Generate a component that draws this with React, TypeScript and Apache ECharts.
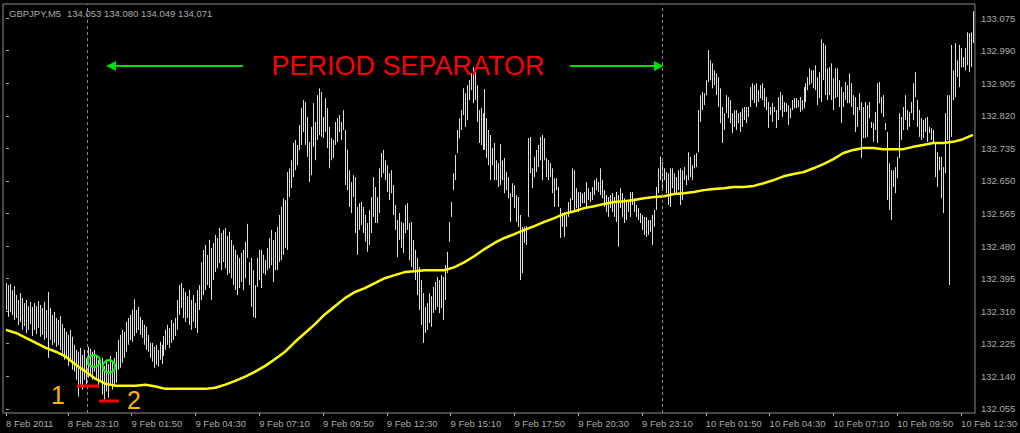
import React, { useEffect, useRef } from "react";
import * as echarts from "echarts";

// GBPJPY M5 bars, index 0 = 8 Feb 20:35, one bar per 5 minutes
const highs = [
  132.383,132.378,132.381,132.365,132.375,132.352,132.339,132.357,132.344,132.331,
  132.339,132.323,132.334,132.321,132.331,132.323,132.336,132.326,132.318,132.334,
  132.313,132.360,132.318,132.300,132.308,132.292,132.287,132.297,132.276,132.266,
  132.256,132.248,132.261,132.243,132.222,132.209,132.204,132.214,132.196,132.209,
  132.188,132.217,132.211,132.204,132.209,132.196,132.183,132.178,132.188,132.167,
  132.183,132.172,132.193,132.178,132.188,132.204,132.235,132.248,132.261,132.256,
  132.282,132.292,132.300,132.313,132.341,132.313,132.321,132.295,132.287,132.274,
  132.269,132.248,132.227,132.227,132.217,132.222,132.209,132.230,132.222,132.245,
  132.261,132.274,132.266,132.287,132.279,132.292,132.339,132.378,132.383,132.370,
  132.360,132.349,132.365,132.339,132.352,132.331,132.365,132.378,132.438,132.470,
  132.483,132.457,132.496,132.475,132.488,132.509,132.501,132.527,132.514,132.522,
  132.527,132.506,132.517,132.496,132.483,132.470,132.457,132.449,
  132.462,132.470,132.491,132.538,132.438,132.449,132.417,132.378,132.449,132.470,
  132.470,132.457,132.443,132.475,132.501,132.522,132.496,132.517,132.530,132.561,
  132.582,132.605,132.600,132.673,132.683,132.704,132.749,132.757,132.744,132.796,
  132.840,132.861,132.856,132.817,132.752,132.791,132.853,132.804,132.874,132.892,
  132.882,132.817,132.866,132.840,132.791,132.762,132.757,132.804,132.814,132.822,
  132.804,132.835,132.783,132.731,132.678,132.647,132.665,132.660,132.582,132.592,
  132.595,132.582,132.561,132.540,132.574,132.608,132.660,132.634,132.608,132.683,
  132.723,132.731,132.704,132.691,132.670,132.678,132.639,132.587,132.548,132.566,
  132.543,132.540,132.587,132.592,132.540,132.543,132.496,132.470,132.449,132.425,
  132.391,132.357,132.321,132.331,132.357,132.349,132.373,132.386,132.399,132.391,
  132.404,132.399,132.430,132.465,132.543,132.595,132.670,132.718,132.783,132.814,
  132.835,132.892,132.879,132.900,132.913,132.931,132.947,132.934,132.900,132.835,132.840,132.827,
  132.890,132.814,132.783,132.770,132.736,132.749,132.704,132.696,132.746,132.704,
  132.710,132.673,132.660,132.618,132.644,132.639,132.613,132.608,132.561,132.530,
  132.530,132.532,132.762,132.765,132.683,132.713,132.731,132.744,132.765,132.770,
  132.762,132.710,132.704,132.696,132.683,132.657,132.657,132.634,132.579,132.566,
  132.569,132.561,132.595,132.605,132.683,132.678,132.631,132.621,132.621,132.618,
  132.621,132.647,132.631,132.621,132.634,132.652,132.657,132.647,132.683,132.652,
  132.626,132.613,132.608,132.613,132.618,132.608,132.621,132.613,132.631,132.618,
  132.605,132.595,132.595,132.621,132.621,132.605,132.587,132.579,132.566,132.561,
  132.556,132.556,132.548,132.548,132.561,132.574,132.634,132.683,132.713,132.699,
  132.683,132.673,132.670,132.683,132.683,132.670,132.660,132.678,132.683,132.678,
  132.686,132.665,132.725,132.713,132.691,132.718,132.723,132.835,132.874,132.882,132.879,132.913,
  132.992,132.965,132.957,132.939,132.931,132.921,132.892,132.843,132.827,132.874,
  132.869,132.861,132.827,132.835,132.835,132.827,132.830,132.840,132.843,132.843,
  132.843,132.895,132.905,132.900,132.905,132.887,132.900,132.905,132.892,132.869,
  132.856,132.843,132.853,132.843,132.835,132.869,132.882,132.874,132.856,132.853,
  132.848,132.840,132.861,132.866,132.866,132.861,132.869,132.861,132.895,132.905,
  132.921,132.944,132.939,132.939,132.952,132.921,132.934,133.020,133.010,133.005,
  132.944,132.947,132.957,132.918,132.944,132.944,132.913,132.895,132.882,132.908,
  132.900,132.931,132.905,132.874,132.869,132.843,132.879,132.856,132.843,132.856,
  132.848,132.856,132.804,132.801,132.830,132.905,132.908,132.869,132.874,132.801,
  132.778,132.696,132.678,132.678,132.686,132.713,132.827,132.817,132.843,132.874,
  132.835,132.830,132.856,132.905,132.934,132.861,132.835,132.814,132.809,132.814,
  132.817,132.791,132.788,132.783,132.749,132.725,132.713,132.713,132.686,132.827,
  132.874,132.874,133.005,132.939,133.010,132.965,133.005,132.997,132.973,132.997,
  133.038,133.036,133.038,133.093,
];

const lows = [
  132.313,132.295,132.308,132.300,132.287,132.292,132.274,132.282,132.261,132.271,
  132.253,132.261,132.276,132.245,132.261,132.250,132.266,132.243,132.248,132.235,
  132.240,132.188,132.235,132.222,132.227,132.217,132.222,132.209,132.196,132.183,
  132.188,132.167,132.178,132.157,132.152,132.131,132.087,132.118,132.105,132.131,
  132.118,132.136,132.146,132.131,132.152,132.136,132.110,132.126,132.092,132.079,
  132.100,132.084,132.115,132.105,132.118,132.123,132.157,132.162,132.175,132.188,
  132.204,132.222,132.235,132.230,132.245,132.253,132.261,132.248,132.240,132.222,
  132.209,132.204,132.188,132.178,132.162,132.170,132.165,132.183,132.172,132.193,
  132.209,132.222,132.214,132.227,132.235,132.245,132.261,132.300,132.318,132.292,
  132.282,132.292,132.274,132.261,132.282,132.266,132.253,132.313,132.339,132.352,
  132.365,132.378,132.370,132.339,132.391,132.412,132.422,132.435,132.417,132.438,
  132.422,132.404,132.409,132.396,132.378,132.365,132.352,132.370,
  132.386,132.365,132.396,132.449,132.378,132.321,132.295,132.292,132.373,132.391,
  132.370,132.409,132.404,132.417,132.422,132.430,132.386,132.417,132.417,132.438,
  132.443,132.457,132.475,132.470,132.608,132.631,132.660,132.678,132.691,132.731,
  132.744,132.778,132.744,132.713,132.647,132.665,132.739,132.704,132.757,132.770,
  132.765,132.762,132.778,132.736,132.683,132.704,132.710,132.744,132.752,132.778,
  132.757,132.783,132.639,132.626,132.582,132.566,132.608,132.514,132.457,132.522,
  132.535,132.514,132.491,132.465,132.483,132.514,132.556,132.540,132.540,132.566,
  132.660,132.670,132.652,132.621,132.600,132.618,132.561,132.522,132.451,132.496,
  132.475,132.462,132.514,132.522,132.443,132.425,132.417,132.391,132.352,132.313,
  132.274,132.227,132.253,132.261,132.279,132.269,132.305,132.313,132.321,132.305,
  132.318,132.287,132.339,132.409,132.491,132.556,132.626,132.652,132.723,132.762,
  132.783,132.822,132.791,132.809,132.861,132.887,132.853,132.861,132.804,132.749,132.744,132.731,
  132.731,132.710,132.691,132.652,132.691,132.652,132.652,132.634,132.639,132.652,
  132.618,132.626,132.605,132.543,132.608,132.579,132.543,132.530,132.391,132.409,
  132.488,132.483,132.556,132.670,132.631,132.660,132.673,132.686,132.704,132.652,
  132.704,132.660,132.652,132.660,132.618,132.582,132.626,132.582,132.501,132.530,
  132.504,132.530,132.556,132.569,132.600,132.574,132.579,132.569,132.582,132.592,
  132.592,132.582,132.600,132.595,132.600,132.613,132.626,132.621,132.613,132.605,
  132.582,132.569,132.556,132.579,132.569,132.556,132.543,132.478,132.579,132.556,
  132.540,132.548,132.569,132.556,132.587,132.569,132.556,132.548,132.540,132.522,
  132.509,132.504,132.509,132.517,132.483,132.530,132.574,132.618,132.652,132.626,
  132.652,132.618,132.587,132.582,132.631,132.618,132.613,132.626,132.587,132.600,
  132.652,132.639,132.652,132.660,132.652,132.683,132.686,132.725,132.804,132.835,132.848,132.874,
  132.908,132.913,132.892,132.900,132.874,132.843,132.801,132.749,132.783,132.827,
  132.814,132.801,132.775,132.791,132.783,132.801,132.778,132.791,132.809,132.801,
  132.817,132.843,132.861,132.853,132.843,132.856,132.866,132.861,132.843,132.835,
  132.788,132.822,132.804,132.830,132.788,132.809,132.835,132.817,132.830,132.830,
  132.796,132.814,132.835,132.840,132.840,132.843,132.830,132.835,132.840,132.856,
  132.887,132.900,132.905,132.892,132.887,132.848,132.866,132.856,132.913,132.874,
  132.861,132.874,132.861,132.835,132.866,132.869,132.843,132.801,132.843,132.861,
  132.853,132.853,132.843,132.822,132.778,132.791,132.835,132.710,132.762,132.762,
  132.765,132.814,132.788,132.752,132.783,132.749,132.853,132.827,132.817,132.783,
  132.600,132.574,132.548,132.634,132.618,132.657,132.710,132.757,132.783,132.809,
  132.783,132.791,132.827,132.809,132.869,132.791,132.765,132.757,132.762,132.778,
  132.752,132.775,132.757,132.749,132.660,132.634,132.678,132.605,132.566,132.670,
  132.757,132.378,132.765,132.861,132.869,132.921,132.895,132.947,132.947,132.939,
  132.952,132.934,132.947,133.010,
];

// Moving average, one reading every 5 bars (bar 0, 5, 10, ...)
const maStep = 5;
const maValues = [
  132.261,132.253,132.240,132.227,132.214,132.204,132.191,132.170,132.152,132.133,
  132.120,132.115,132.115,132.115,132.118,132.113,132.107,132.107,132.107,132.107,
  132.107,132.110,132.118,132.128,132.139,132.152,132.167,132.185,132.204,132.230,
  132.253,132.276,132.302,132.323,132.344,132.360,132.370,132.383,132.396,132.404,
  132.412,132.414,132.417,132.417,132.417,132.425,132.438,132.454,132.472,132.488,
  132.501,132.511,132.522,132.532,132.543,132.553,132.564,132.571,132.579,132.584,
  132.590,132.595,132.597,132.600,132.605,132.608,132.610,132.616,132.618,132.621,
  132.626,132.629,132.631,132.634,132.634,132.637,132.644,132.652,132.662,132.668,
  132.673,132.683,132.694,132.707,132.723,132.731,132.736,132.736,132.733,132.733,
  132.733,132.739,132.744,132.749,132.749,132.752,132.759,132.770,
];

// Day separators (bar index of 9 Feb 00:00 and 10 Feb 00:00)
const separatorIdx = [41, 329];

const xTickIdx = [0, 31, 63, 95, 127, 159, 191, 223, 255, 287, 319, 351, 383, 415, 447, 479];
const xTickLabels = [
  "8 Feb 2011", "8 Feb 23:10", "9 Feb 01:50", "9 Feb 04:30", "9 Feb 07:10", "9 Feb 09:50",
  "9 Feb 12:30", "9 Feb 15:10", "9 Feb 17:50", "9 Feb 20:30", "9 Feb 23:10", "10 Feb 01:50",
  "10 Feb 04:30", "10 Feb 07:10", "10 Feb 09:50", "10 Feb 12:30",
];
const yTicks = [
  132.055, 132.140, 132.225, 132.310, 132.395, 132.480, 132.565,
  132.650, 132.735, 132.820, 132.905, 132.990, 133.075,
];

const FONT = "'Liberation Sans', Arial, sans-serif";
const AXIS_COLOR = "#aaaaaa";

export default function App() {
  const ref = useRef<HTMLDivElement>(null);

  useEffect(() => {
    if (!ref.current) return;
    const chart = echarts.init(ref.current, null, { renderer: "svg" });

    const barData = highs.map((h, i) => [i, h, lows[i]]);
    const maData = maValues.map((v, k) => [k * maStep, v]);

    chart.setOption({
      animation: false,
      backgroundColor: "#000000",
      grid: {
        left: 3,
        right: 42,
        top: 4,
        bottom: 20,
        show: true,
        borderColor: "#8c8c8c",
        borderWidth: 1,
        backgroundColor: "transparent",
      },
      xAxis: {
        type: "value",
        min: -1.5,
        max: 486,
        axisLine: { show: false },
        splitLine: { show: false },
        axisTick: {
          show: true,
          customValues: xTickIdx,
          length: 3,
          lineStyle: { color: AXIS_COLOR },
        },
        axisLabel: {
          customValues: xTickIdx,
          formatter: (v: number) => {
            const k = xTickIdx.indexOf(Math.round(v));
            return k >= 0 ? xTickLabels[k] : "";
          },
          align: "left",
          color: AXIS_COLOR,
          fontSize: 9.5,
          fontFamily: FONT,
          margin: 5,
        },
      },
      yAxis: {
        type: "value",
        position: "right",
        min: 132.044,
        max: 133.112,
        axisLine: { show: false },
        splitLine: { show: false },
        axisTick: {
          show: true,
          customValues: yTicks,
          length: 3,
          lineStyle: { color: AXIS_COLOR },
        },
        axisLabel: {
          customValues: yTicks,
          formatter: (v: number) => v.toFixed(3),
          color: AXIS_COLOR,
          fontSize: 9.5,
          fontFamily: FONT,
          margin: 6,
        },
      },
      series: [
        {
          type: "custom",
          data: barData,
          encode: { x: 0, y: [1, 2] },
          renderItem: (params: any, api: any) => {
            const i = api.value(0);
            const top = api.coord([i, api.value(1)]);
            const bot = api.coord([i, api.value(2)]);
            const x = Math.round(top[0]) + 0.5;
            return {
              type: "line",
              shape: { x1: x, y1: top[1], x2: x, y2: bot[1] },
              style: { stroke: "#dedede", lineWidth: 1 },
            };
          },
          markLine: {
            silent: true,
            symbol: ["none", "none"],
            label: { show: false },
            lineStyle: { color: "#8c8c8c", type: [3, 3], width: 1 },
            data: separatorIdx.map((v) => ({ xAxis: v })),
          },
          z: 2,
        },
        {
          type: "line",
          data: maData,
          showSymbol: false,
          symbol: "none",
          lineStyle: { color: "#ffff00", width: 2.5 },
          z: 3,
        },
      ],
      graphic: [
        {
          type: "text",
          x: 9,
          y: 13,
          z: 100,
          style: { text: "GBPJPY,M5", fill: "#acacac", fontSize: 9.5, fontFamily: FONT, textVerticalAlign: "middle" },
        },
        {
          type: "text",
          x: 67,
          y: 13,
          z: 100,
          style: { text: "134.053 134.080 134.049 134.071", fill: "#acacac", fontSize: 9.5, fontFamily: FONT, textVerticalAlign: "middle" },
        },
        {
          type: "text",
          x: 408,
          y: 66,
          z: 100,
          style: { text: "PERIOD SEPARATOR", fill: "#ff0000", fontSize: 27, fontFamily: FONT, textAlign: "center", textVerticalAlign: "middle" },
        },
        { type: "line", z: 100, shape: { x1: 115, y1: 66, x2: 243, y2: 66 }, style: { stroke: "#00dd00", lineWidth: 2 } },
        { type: "polygon", z: 100, shape: { points: [[106, 66], [116, 61], [116, 71]] }, style: { fill: "#00dd00" } },
        { type: "line", z: 100, shape: { x1: 570, y1: 66, x2: 655, y2: 66 }, style: { stroke: "#00dd00", lineWidth: 2 } },
        { type: "polygon", z: 100, shape: { points: [[664, 66], [654, 61], [654, 71]] }, style: { fill: "#00dd00" } },
        { type: "circle", z: 100, shape: { cx: 94, cy: 361, r: 6 }, style: { stroke: "#11ee11", fill: "none", lineWidth: 2 } },
        { type: "circle", z: 100, shape: { cx: 109, cy: 366.5, r: 6.3 }, style: { stroke: "#11ee11", fill: "none", lineWidth: 2 } },
        { type: "line", z: 100, shape: { x1: 77, y1: 386, x2: 99, y2: 386 }, style: { stroke: "#ff0000", lineWidth: 3 } },
        { type: "line", z: 100, shape: { x1: 99, y1: 401, x2: 119, y2: 401 }, style: { stroke: "#ff0000", lineWidth: 3 } },
        {
          type: "text",
          x: 58,
          y: 395,
          z: 100,
          style: { text: "1", fill: "#f5b800", fontSize: 25, fontFamily: FONT, textAlign: "center", textVerticalAlign: "middle" },
        },
        {
          type: "text",
          x: 134,
          y: 400,
          z: 100,
          style: { text: "2", fill: "#f5b800", fontSize: 25, fontFamily: FONT, textAlign: "center", textVerticalAlign: "middle" },
        },
      ],
    });

    return () => chart.dispose();
  }, []);

  return (
    <div
      ref={ref}
      style={{ position: "fixed", left: 0, top: 0, width: 1020, height: 433, background: "#000000" }}
    />
  );
}
